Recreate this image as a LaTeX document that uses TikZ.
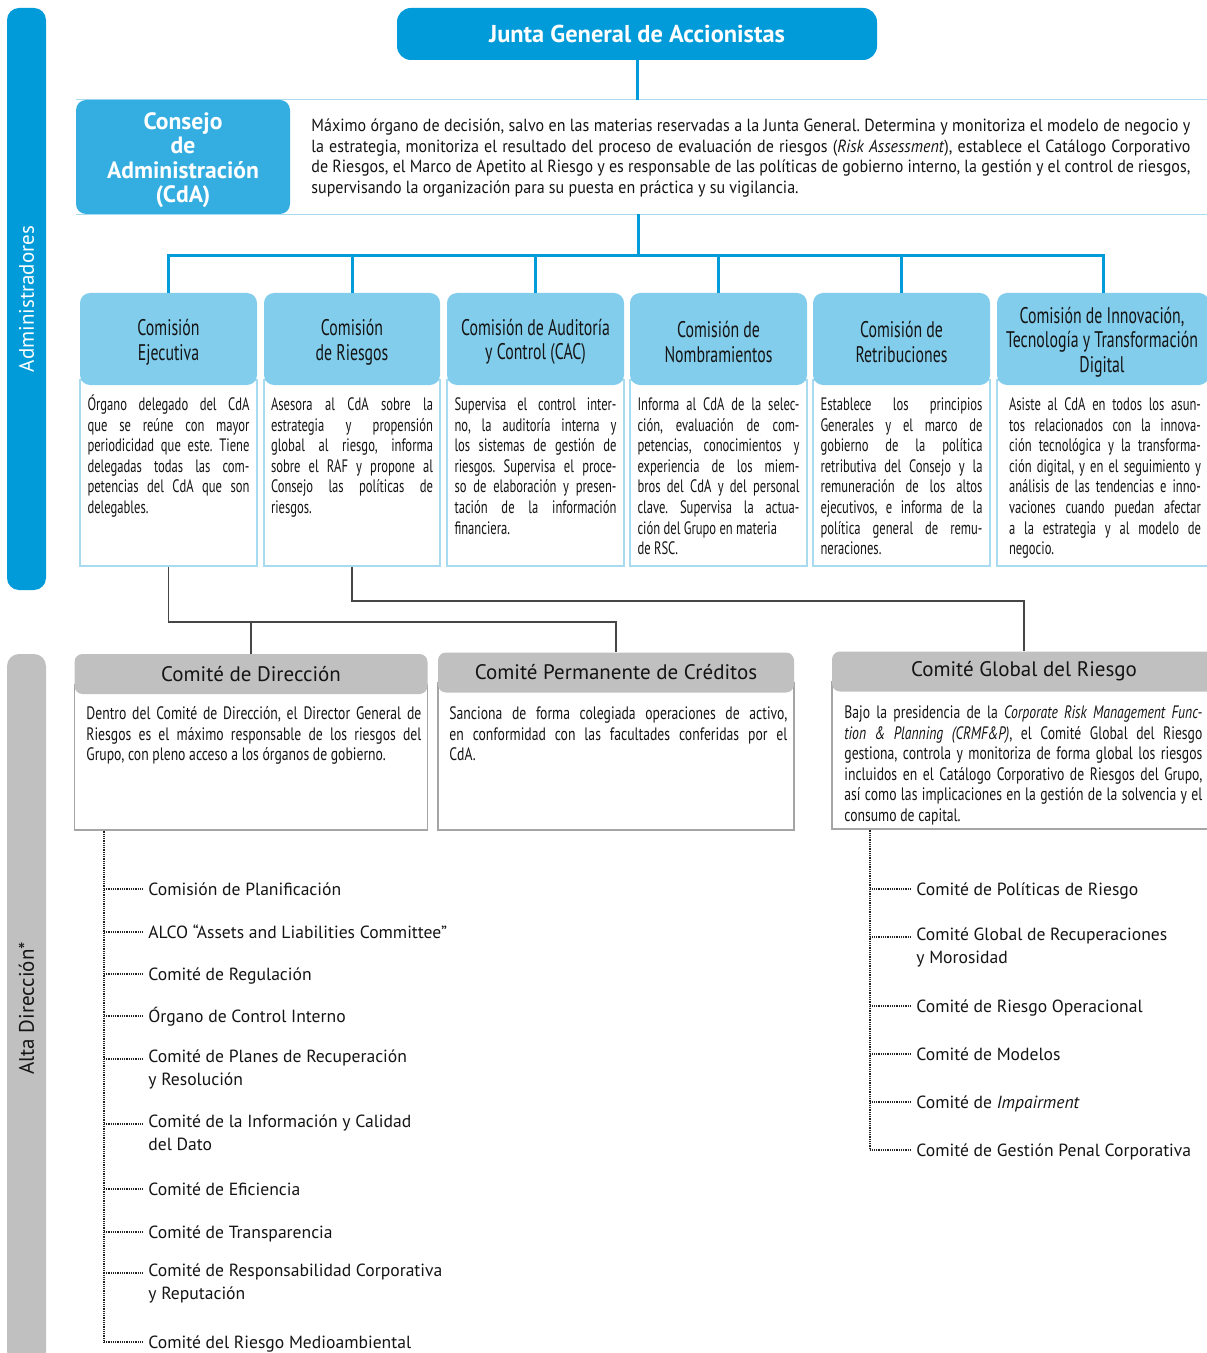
\documentclass[tikz,border=0pt]{standalone}
\usepackage{fontspec}
\setmainfont{PT Sans}
\newfontfamily\condfont[FakeStretch=0.70]{PT Sans}
\newfontfamily\midfont[FakeStretch=0.76]{PT Sans}
\newfontfamily\widefont[FakeStretch=0.91]{PT Sans}
\usepackage{xcolor}
\usepackage{tikz}
\usetikzlibrary{calc}

\definecolor{jgablue}{RGB}{0,155,216}
\definecolor{cdablue}{RGB}{52,174,225}
\definecolor{comblue}{RGB}{130,205,235}
\definecolor{rimblue}{RGB}{168,218,240}
\definecolor{hdrgray}{RGB}{192,192,192}
\definecolor{rimgray}{RGB}{165,165,165}
\definecolor{linkgray}{RGB}{70,70,70}
\definecolor{dotgray}{RGB}{35,35,35}
\definecolor{txtgray}{RGB}{20,20,20}

\newcommand{\tstrut}{\rule{0pt}{8pt}}
\frenchspacing

\begin{document}
\begin{tikzpicture}[x=0.5pt,y=-0.5pt,text=txtgray,
    sidebar/.style={rounded corners=6pt,inner sep=0pt,minimum height=19.5pt,rotate=90,font=\fontsize{10.5}{12}\selectfont},
    topbox/.style={fill=jgablue,rounded corners=7pt,text=white,inner sep=0pt,font=\bfseries\fontsize{12.2}{14}\selectfont},
    cdabox/.style={fill=cdablue,rounded corners=5pt,inner sep=0pt},
    cdalabel/.style={text=white,align=center,inner sep=0pt,font=\bfseries\fontsize{11.8}{12.2}\selectfont},
    comhead/.style={fill=comblue,rounded corners=5pt,inner sep=0pt,minimum height=46pt},
    comlabel/.style={align=center,inner sep=0pt,font=\condfont\fontsize{11.3}{12.3}\selectfont},
    combody/.style={draw=rimblue,line width=0.6pt,inner sep=0pt,minimum height=93pt},
    bodytext/.style={align=justify,inner sep=0pt,font=\condfont\fontsize{9}{10.3}\selectfont,execute at begin node=\tstrut},
    cthead/.style={fill=hdrgray,rounded corners=4pt,inner sep=0pt,minimum height=20pt,font=\fontsize{10.5}{12}\selectfont},
    ctbody/.style={draw=rimgray,line width=0.6pt,inner sep=0pt},
    listitem/.style={anchor=north west,align=left,inner sep=0pt,font=\fontsize{8.8}{11.5}\selectfont,execute at begin node=\tstrut},
    bluelink/.style={draw=jgablue,line width=1.5pt},
    rimline/.style={draw=rimblue,line width=0.75pt},
    graylink/.style={draw=linkgray,line width=0.6pt},
    dotlink/.style={draw=dotgray,line width=0.95pt,dash pattern=on 0.5pt off 0.4pt}]
\useasboundingbox (0,0) rectangle (1206,1353);

% side bars
\node[sidebar,fill=jgablue,text=white,minimum width=291pt] (adm) at (26.5,299) {Administradores};
\node[sidebar,fill=hdrgray,minimum width=354.5pt] (alta) at (26.5,1008.5) {Alta Dirección*};

% junta y consejo
\node[topbox,minimum width=240pt,minimum height=26pt] (jga) at (637,34) {Junta General de Accionistas};
\node[inner sep=0pt,minimum width=570pt,minimum height=57pt] (cdarow) at (646,157) {};
\draw[rimline] (cdarow.north west) -- (cdarow.north east);
\draw[rimline] (cdarow.south west) -- (cdarow.south east);
\node[cdabox,minimum width=107pt,minimum height=57pt] (cda) at (183,157) {};
\node[cdalabel] (cdal) at (183,160) {Consejo\\de\\Administración\\(CdA)};
\node[anchor=west,inner sep=0pt,text width=439.5pt,align=justify,font=\widefont\fontsize{8.8}{10.35}\selectfont] (cdatxt) at (311,158)
  {Máximo órgano de decisión, salvo en las materias reservadas a la Junta General. Determina y monitoriza el modelo de negocio y\linebreak
   la estrategia, monitoriza el resultado del proceso de evaluación de riesgos (\textit{Risk Assessment}), establece el Catálogo Corporativo\linebreak
   de Riesgos, el Marco de Apetito al Riesgo y es responsable de las políticas de gobierno interno, la gestión y el control de riesgos,\linebreak
   supervisando la organización para su puesta en práctica y su vigilancia.};
\draw[bluelink] (jga.south) -- (jga.south |- cdarow.north);

% comisiones
\node[combody,minimum width=88.5pt] (c1b) at (168.5,473) {};
\node[combody,minimum width=88pt] (c2b) at (352,473) {};
\node[combody,minimum width=88.5pt] (c3b) at (535.5,473) {};
\node[combody,minimum width=88.5pt] (c4b) at (718.5,473) {};
\node[combody,minimum width=88.5pt] (c5b) at (901.5,473) {};
\node[combody,minimum width=106pt] (c6b) at (1103,473) {};
\node[comhead,minimum width=88.5pt] (c1) at (168.5,339) {};
\node[comhead,minimum width=88pt] (c2) at (352,339) {};
\node[comhead,minimum width=88.5pt] (c3) at (535.5,339) {};
\node[comhead,minimum width=88.5pt] (c4) at (718.5,339) {};
\node[comhead,minimum width=88.5pt] (c5) at (901.5,339) {};
\node[comhead,minimum width=106pt] (c6) at (1103,339) {};
\node[comlabel] (c1l) at (168.5,342) {Comisión\\Ejecutiva};
\node[comlabel] (c2l) at (352,342) {Comisión\\de Riesgos};
\node[comlabel] (c3l) at (535.5,342) {Comisión de Auditoría\\y Control (CAC)};
\node[comlabel] (c4l) at (718.5,342) {Comisión de\\Nombramientos};
\node[comlabel] (c5l) at (901.5,342) {Comisión de\\Retribuciones};
\node[comlabel] (c6l) at (1102,342) {Comisión de Innovación,\\Tecnología y Transformación\\Digital};

\node[bodytext,anchor=north,text width=81pt] (c1t) at (168.5,394)
  {Órgano delegado del CdA\linebreak que se reúne con mayor\linebreak periodicidad que este. Tiene\linebreak delegadas todas las com-\linebreak petencias del CdA que son\linebreak delegables.};
\node[bodytext,anchor=north,text width=81pt] (c2t) at (352,394)
  {Asesora al CdA sobre la\linebreak estrategia y propensión\linebreak global al riesgo, informa\linebreak sobre el RAF y propone al\linebreak Consejo las políticas de\linebreak riesgos.};
\node[bodytext,anchor=north,text width=81pt] (c3t) at (535.5,394)
  {Supervisa el control inter-\linebreak no, la auditoría interna y\linebreak los sistemas de gestión de\linebreak riesgos. Supervisa el proce-\linebreak so de elaboración y presen-\linebreak tación de la información\linebreak financiera.};
\node[bodytext,anchor=north,text width=81pt] (c4t) at (718.5,394)
  {Informa al CdA de la selec-\linebreak ción, evaluación de com-\linebreak petencias, conocimientos y\linebreak experiencia de los miem-\linebreak bros del CdA y del personal\linebreak clave. Supervisa la actua-\linebreak ción del Grupo en materia\newline de RSC.};
\node[bodytext,anchor=north,text width=81pt] (c5t) at (901.5,394)
  {Establece los principios\linebreak Generales y el marco de\linebreak gobierno de la política\linebreak retributiva del Consejo y la\linebreak remuneración de los altos\linebreak ejecutivos, e informa de la\linebreak política general de remu-\linebreak neraciones.};
\node[bodytext,anchor=north,text width=96pt] (c6t) at (1105,394)
  {Asiste al CdA en todos los asun-\linebreak tos relacionados con la innova-\linebreak ción tecnológica y la transforma-\linebreak ción digital, y en el seguimiento y\linebreak análisis de las tendencias e inno-\linebreak vaciones cuando puedan afectar\linebreak a la estrategia y al modelo de\linebreak negocio.};

\coordinate (bus) at (638,256);
\draw[bluelink] (cdarow.south -| bus) -- (bus);
\draw[bluelink] (c1.north) |- (bus) -| (c6.north);
\foreach \c in {c2,c3,c4,c5}
  \draw[bluelink] (\c.north) -- (\c.north |- bus);

% comites
\node[ctbody,minimum width=176.5pt,minimum height=72.5pt] (cddb) at (251,757.5) {};
\node[ctbody,minimum width=178pt,minimum height=73.5pt] (cpcb) at (616,756.5) {};
\node[ctbody,minimum width=192pt,minimum height=73.5pt] (cgrb) at (1024,755.5) {};
\node[cthead,minimum width=176.5pt] (cdd) at (251,674) {Comité de Dirección};
\node[cthead,minimum width=178pt] (cpc) at (616,672.5) {Comité Permanente de Créditos};
\node[cthead,minimum width=192pt] (cgr) at (1024,671.5) {Comité Global del Riesgo};

\node[bodytext,font=\midfont\fontsize{9}{10.3}\selectfont,anchor=north west,text width=167.5pt] (cddt) at (86,703)
  {Dentro del Comité de Dirección, el Director General de\linebreak Riesgos es el máximo responsable de los riesgos del\linebreak Grupo, con pleno acceso a los órganos de gobierno.};
\node[bodytext,font=\midfont\fontsize{9}{10.3}\selectfont,anchor=north west,text width=169pt] (cpct) at (449,703)
  {Sanciona de forma colegiada operaciones de activo,\linebreak en conformidad con las facultades conferidas por el\linebreak CdA.};
\node[bodytext,font=\midfont\fontsize{9}{10.3}\selectfont,anchor=north west,text width=179pt] (cgrt) at (844,702)
  {Bajo la presidencia de la \textit{Corporate Risk Management Func-}\linebreak \textit{tion \& Planning (CRMF\&P)}, el Comité Global del Riesgo\linebreak gestiona, controla y monitoriza de forma global los riesgos\linebreak incluidos en el Catálogo Corporativo de Riesgos del Grupo,\linebreak así como las implicaciones en la gestión de la solvencia y el\linebreak consumo de capital.};

\coordinate (jn1) at (0,622);
\coordinate (jn2) at (0,601);
\draw[graylink] (c1b.south) |- (cpc.north |- jn1) -- (cpc.north);
\draw[graylink] (cdd.north) -- (cdd.north |- jn1);
\draw[graylink] (c2b.south) |- (cgr.north |- jn2) -- (cgr.north);

% arboles punteados
\coordinate (lsp) at ([xshift=15pt]cddb.south west);
\coordinate (rsp) at ([xshift=19.5pt]cgrb.south west);
\draw[dotlink] (lsp) -- (lsp |- 0,1342);
\draw[dotlink] (rsp) -- (rsp |- 0,1150);
\foreach \y/\txt [count=\i] in {889/{Comisión de Planificación},932/{ALCO “Assets and Liabilities Committee”},974/{Comité de Regulación},1016/{Órgano de Control Interno},1059/{Comité de Planes de Recuperación\\y Resolución},1124/{Comité de la Información y Calidad\\del Dato},1189/{Comité de Eficiencia},1232/{Comité de Transparencia},1273/{Comité de Responsabilidad Corporativa\\y Reputación},1342/{Comité del Riesgo Medioambiental}}
{
  \node[listitem] (l\i) at (148,\y-10) {\txt};
  \draw[dotlink,shorten >=2.5pt] (lsp |- 0,\y) -- (l\i.west |- 0,\y);
}
\foreach \y/\txt [count=\i] in {889/{Comité de Políticas de Riesgo},937/{Comité Global de Recuperaciones\\y Morosidad},1006/{Comité de Riesgo Operacional},1054/{Comité de Modelos},1102/{Comité de \textit{Impairment}},1150/{Comité de Gestión Penal Corporativa}}
{
  \node[listitem] (r\i) at (916,\y-10) {\txt};
  \draw[dotlink,shorten >=2.5pt] (rsp |- 0,\y) -- (r\i.west |- 0,\y);
}
\end{tikzpicture}
\end{document}
